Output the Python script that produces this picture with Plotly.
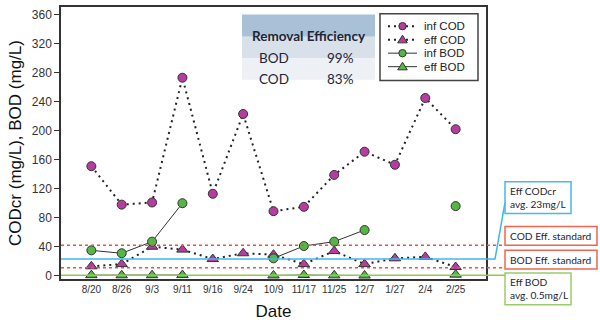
import plotly.graph_objects as go

# Sampling dates and measured concentrations (mg/L)
dates = ["8/20", "8/26", "9/3", "9/11", "9/16", "9/24", "10/9",
         "11/17", "11/25", "12/7", "1/27", "2/4", "2/25"]
inf_cod = [151, 98, 101, 273, 113, 223, 89, 95, 139, 171, 153, 245, 202]
eff_cod = [13, 16, 40, 36, 23, 31, 29, 16, 34, 16, 24, 26, 12]
inf_bod = [35, 31, 47, 100, None, None, 24, 41, 47, 63, None, None, 96]
eff_bod = [0.8, 0.6, 0.7, 0.9, None, None, 0.4, 1.0, 0.5, 0.3, None, None, 1.5]

# Reference levels (mg/L)
cod_standard = 42
bod_standard = 11
eff_cod_avg = 23
eff_bod_avg = 0.5

# Removal efficiency summary
eff_params = ["BOD", "COD"]
eff_pct = [99, 83]

PURPLE = "#b63c9f"
GREEN = "#55b545"
DOT = "2px,4px"
INK = "#1e2538"

# Plot-area pixel geometry (600x323 page)
W, H = 600, 323
L, R, T, B = 61, 486, 5, 279
Y_RANGE = [-4.5, 370.5]


def px_x(px):
    return (px - L) / (R - L)


def px_y(py):
    return (B - py) / (B - T)


def val_y(v):
    return (v - Y_RANGE[0]) / (Y_RANGE[1] - Y_RANGE[0])


series = [
    ("inf COD", inf_cod, "circle", PURPLE, dict(color="#222", width=2, dash=DOT)),
    ("eff COD", eff_cod, "triangle-up", PURPLE, dict(color="#222", width=2, dash=DOT)),
    ("inf BOD", inf_bod, "circle", GREEN, dict(color="#333", width=1)),
    ("eff BOD", eff_bod, "triangle-up", GREEN, dict(color="#333", width=1)),
]

fig = go.Figure()
for name, vals, sym, col, line in series:
    fig.add_trace(go.Scatter(
        x=dates, y=vals, name=name, mode="lines+markers", connectgaps=False,
        line=line,
        marker=dict(symbol=sym, size=9 if sym == "circle" else 10, color=col,
                    line=dict(color="#333", width=1))))

shapes = []
annotations = []

# Horizontal reference lines running out to the note boxes
box_left = px_x(505)
shapes.append(dict(type="line", xref="paper", yref="y", x0=0, x1=box_left,
                   y0=cod_standard, y1=cod_standard,
                   line=dict(color="#f0503c", width=1.5, dash="dot")))
shapes.append(dict(type="line", xref="paper", yref="y", x0=0, x1=box_left,
                   y0=bod_standard, y1=bod_standard,
                   line=dict(color="#f0503c", width=1.5, dash="dot")))
shapes.append(dict(type="line", xref="paper", yref="y", x0=0, x1=box_left,
                   y0=eff_bod_avg, y1=eff_bod_avg,
                   line=dict(color="#8fc95a", width=1.5)))
shapes.append(dict(type="path", xref="paper", yref="paper",
                   path=f"M 0 {val_y(eff_cod_avg)} L {px_x(495)} {val_y(eff_cod_avg)} "
                        f"L {px_x(505)} {px_y(202)}",
                   line=dict(color="#3fb6ea", width=1.5)))

# Note boxes on the right
notes = [
    ("Eff CODcr<br>avg. %smg/L" % eff_cod_avg, 181, 213, 571, "#4ab8e8"),
    ("COD Eff. standard", 226, 245, 597, "#f06450"),
    ("BOD Eff. standard", 250, 269, 597, "#f06450"),
    ("Eff BOD<br>avg. %smg/L" % eff_bod_avg, 273, 305, 571, "#9acd6a"),
]
for text, top, bot, right, col in notes:
    shapes.append(dict(type="rect", xref="paper", yref="paper",
                       x0=px_x(505), x1=px_x(right), y0=px_y(bot), y1=px_y(top),
                       line=dict(color=col, width=1.5), layer="above"))
    annotations.append(dict(xref="paper", yref="paper", x=px_x(507.5),
                            y=(px_y(top) + px_y(bot)) / 2,
                            xanchor="left", yanchor="middle", align="left",
                            text=text, showarrow=False,
                            font=dict(family="Lato", size=10.2, color=INK)))

# Removal efficiency table
tx0, tx1 = px_x(242), px_x(375)
rows_px = [12.5, 35, 56.7, 78.3]
fills = ["#a9c1d7", "#d8e0e9", "#edf0f4"]
for i in range(3):
    shapes.append(dict(type="rect", xref="paper", yref="paper",
                       x0=tx0, x1=tx1, y0=px_y(rows_px[i + 1]), y1=px_y(rows_px[i]),
                       line=dict(width=0), fillcolor=fills[i], layer="below"))
annotations.append(dict(xref="paper", yref="paper", x=(tx0 + tx1) / 2,
                        y=px_y((rows_px[0] + rows_px[1]) / 2),
                        text="<b>Removal Efficiency</b>", showarrow=False,
                        font=dict(family="Lato", size=13.5, color=INK)))
for i, (p, v) in enumerate(zip(eff_params, eff_pct)):
    yc = px_y((rows_px[i + 1] + rows_px[i + 2]) / 2)
    annotations.append(dict(xref="paper", yref="paper", x=px_x(274), y=yc,
                            text=p, showarrow=False,
                            font=dict(family="Lato", size=13.5, color=INK)))
    annotations.append(dict(xref="paper", yref="paper", x=px_x(340), y=yc,
                            text=f"{v}%", showarrow=False,
                            font=dict(family="Lato", size=13.5, color=INK)))

# Compact legend panel: key line, marker glyph and label for each series
shapes.append(dict(type="rect", xref="paper", yref="paper",
                   x0=px_x(380), x1=px_x(478), y0=px_y(79), y1=px_y(11.7),
                   line=dict(color="#444", width=1.5), fillcolor="white",
                   layer="above"))
for k, (name, vals, sym, col, line) in enumerate(series):
    cy = 24.3 + k * 13.6
    cx = 402.5
    shapes.append(dict(type="line", xref="paper", yref="paper",
                       x0=px_x(388), x1=px_x(417), y0=px_y(cy), y1=px_y(cy),
                       line=dict(color=line["color"], width=line["width"],
                                 dash=line.get("dash", "solid")),
                       layer="above"))
    if sym == "circle":
        shapes.append(dict(type="circle", xref="paper", yref="paper",
                           x0=px_x(cx - 3.7), x1=px_x(cx + 3.7),
                           y0=px_y(cy + 3.7), y1=px_y(cy - 3.7),
                           fillcolor=col, line=dict(color="#333", width=1),
                           layer="above"))
    else:
        shapes.append(dict(type="path", xref="paper", yref="paper",
                           path=(f"M {px_x(cx)} {px_y(cy - 4.5)} "
                                 f"L {px_x(cx + 4.8)} {px_y(cy + 3.2)} "
                                 f"L {px_x(cx - 4.8)} {px_y(cy + 3.2)} Z"),
                           fillcolor=col, line=dict(color="#333", width=1),
                           layer="above"))
    annotations.append(dict(xref="paper", yref="paper", x=px_x(422), y=px_y(cy),
                            xanchor="left", yanchor="middle", text=name,
                            showarrow=False,
                            font=dict(family="Liberation Sans, Arial", size=11.5,
                                      color="#222")))

fig.update_layout(
    width=W, height=H,
    margin=dict(l=L, r=W - R, t=T, b=H - B),
    paper_bgcolor="white", plot_bgcolor="white",
    font=dict(family="Liberation Sans, Arial", color="#222"),
    showlegend=False,
    shapes=shapes, annotations=annotations,
    xaxis=dict(type="category", range=[-1, 13], showgrid=False,
               showline=True, linecolor="#333", linewidth=1.5, mirror=True,
               ticks="", tickfont=dict(size=10, color="#333"),
               title=dict(text="Date", font=dict(size=17, color="#111"), standoff=11)),
    yaxis=dict(range=Y_RANGE, tickvals=list(range(0, 361, 40)), showgrid=False,
               zeroline=False, showline=True, linecolor="#333", linewidth=1.5,
               mirror=True, ticks="outside", ticklen=5, tickcolor="#333",
               tickfont=dict(size=12, color="#333"),
               title=dict(text="CODcr (mg/L), BOD (mg/L)",
                          font=dict(size=17, color="#111"), standoff=6)),
)

fig.write_html("out.html")
